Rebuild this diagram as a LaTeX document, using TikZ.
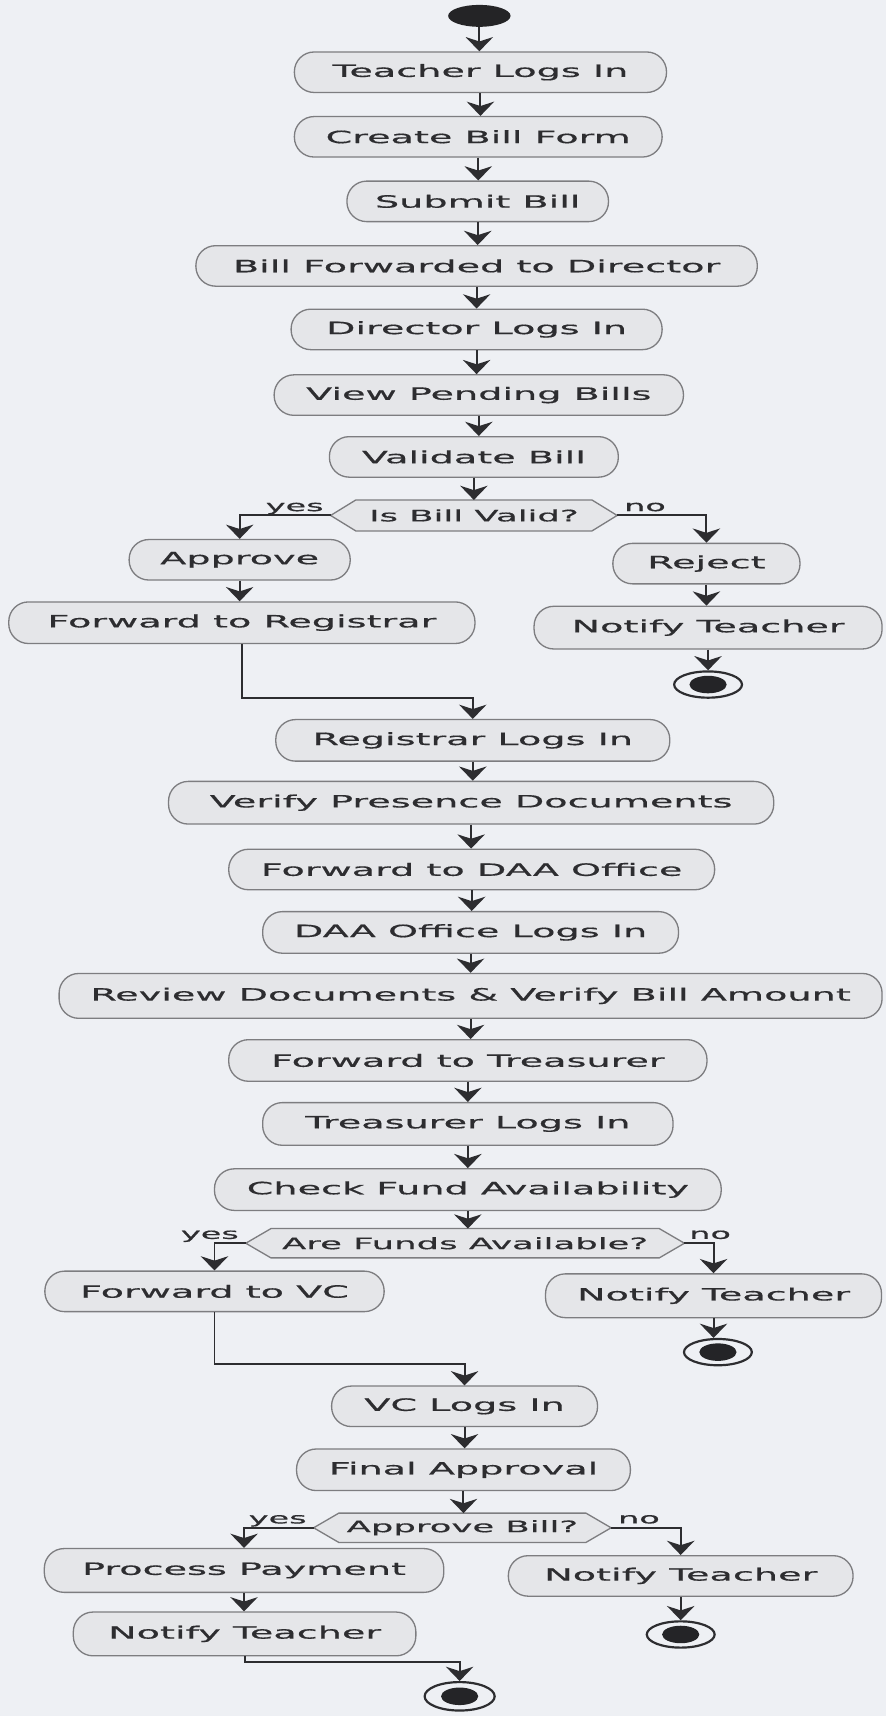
\documentclass[tikz,border=0pt]{standalone}
\usepackage{fontspec}
\setmainfont{DejaVu Sans}[FakeStretch=2.25,FakeBold=0.6]
\usetikzlibrary{arrows.meta,shapes.geometric}
\definecolor{bgc}{RGB}{238,240,244}
\definecolor{boxc}{RGB}{229,230,233}
\definecolor{edgec}{RGB}{125,125,128}
\definecolor{inkc}{RGB}{45,45,48}
\pgfdeclarelayer{back}
\pgfdeclarelayer{hexl}
\pgfsetlayers{back,hexl,main}
\tikzset{
 act/.style={draw=edgec, fill=boxc, rounded corners=9pt, line width=0.6pt, text=inkc,
   font=\fontsize{7.75pt}{9pt}\selectfont, inner sep=0pt, minimum height=18.5pt},
 bw/.style={minimum width=#1*0.5pt},
 bh/.style={minimum height=#1*0.5pt},
 dec/.style={text=inkc, font=\fontsize{7.2pt}{9pt}\selectfont, inner sep=0pt, minimum height=13.5pt},
 hexs/.style={draw=edgec, fill=boxc, line width=0.6pt},
 arr/.style={draw=inkc, line width=0.9pt, -{Stealth[length=6.5pt,width=12.5pt,inset=2pt]}},
 lbl/.style={text=inkc, font=\fontsize{6.8pt}{8pt}\selectfont, inner sep=0pt},
 endo/.style={ellipse, draw=inkc, line width=1pt, fill=bgc, inner sep=0pt, minimum width=31pt, minimum height=12pt},
 starts/.style={ellipse, fill=inkc!80!black, inner sep=0pt, minimum width=28.5pt, minimum height=10pt},
}
\newcommand{\hexof}[1]{%
 \begin{pgfonlayer}{hexl}
 \draw[hexs] (#1.west) -- ([xshift=11.5pt]#1.north west) -- ([xshift=-11.5pt]#1.north east)
   -- (#1.east) -- ([xshift=-11.5pt]#1.south east) -- ([xshift=11.5pt]#1.south west) -- cycle;
 \end{pgfonlayer}}
\newcommand{\finaldot}[1]{\fill[inkc!80!black] (#1.center) ellipse [x radius=8.5pt, y radius=4pt];}
\begin{document}
\begin{tikzpicture}[x=0.5pt,y=-0.5pt]
\begin{pgfonlayer}{back}
\fill[bgc] (0,0) rectangle (810,1568);
\end{pgfonlayer}
\useasboundingbox (0,0) rectangle (810,1568);

% nodes
\node[starts] (s0) at (438,14.5) {};
\node[act,bw=340] (t1) at (439,66) {Teacher Logs In};
\node[act,bw=336] (t2) at (437,125) {Create Bill Form};
\node[act,bw=239] (t3) at (436.5,184) {Submit Bill};
\node[act,bw=513] (t4) at (435.5,243) {Bill Forwarded to Director};
\node[act,bw=339] (t5) at (435.5,301) {Director Logs In};
\node[act,bw=374] (t6) at (437.5,361) {View Pending Bills};
\node[act,bw=264] (t7) at (433,417.5) {Validate Bill};
\node[dec,bw=261,bh=27.5] (d1) at (433,471) {Is Bill Valid?};
\hexof{d1}
\node[act,bw=202] (a1) at (219,511.5) {Approve};
\node[act,bw=171] (r1) at (645.5,515) {Reject};
\node[act,bw=426,bh=38] (fr) at (221,569) {Forward to Registrar};
\node[act,bw=318,bh=39] (n1) at (647,573.5) {Notify Teacher};
\node[endo] (e1) at (647,625.5) {};
\finaldot{e1}
\coordinate (m1) at (221,637.5);
\node[act,bw=360,bh=38] (t8) at (432,676.5) {Registrar Logs In};
\node[act,bw=553,bh=39] (t9) at (430.5,733.5) {Verify Presence Documents};
\node[act,bw=444] (t10) at (431,794.5) {Forward to DAA Office};
\node[act,bw=380,bh=38] (t11) at (430,852) {DAA Office Logs In};
\node[act,bw=752,bh=41] (t12) at (430,910) {Review Documents \& Verify Bill Amount};
\node[act,bw=437,bh=38] (t13) at (427.5,969) {Forward to Treasurer};
\node[act,bw=375,bh=39] (t14) at (427.5,1027) {Treasurer Logs In};
\node[act,bw=463,bh=38] (t15) at (427.5,1087) {Check Fund Availability};
\node[dec,bw=400,bh=26] (d2) at (425,1136) {Are Funds Available?};
\hexof{d2}
\node[act,bw=310] (fv) at (196,1180) {Forward to VC};
\node[act,bw=307,bh=40] (n2) at (652,1184) {Notify Teacher};
\node[endo] (e2) at (656,1235.5) {};
\finaldot{e2}
\coordinate (m2) at (196,1246.5);
\node[act,bw=243] (t16) at (424.5,1285) {VC Logs In};
\node[act,bw=305,bh=38] (t17) at (423.5,1343) {Final Approval};
\node[dec,bw=271,bh=26] (d3) at (422.5,1396) {Approve Bill?};
\hexof{d3}
\node[act,bw=365,bh=40] (pp) at (223,1435) {Process Payment};
\node[act,bw=315] (n3) at (622,1440) {Notify Teacher};
\node[act,bw=313,bh=40] (n4) at (223.5,1493) {Notify Teacher};
\node[endo] (e3) at (622,1493.5) {};
\finaldot{e3}
\coordinate (m3) at (223.5,1519);
\node[endo,minimum width=32pt,minimum height=13pt] (e4) at (420,1550) {};
\finaldot{e4}

% labels
\node[lbl,anchor=base east,xshift=-3pt,yshift=2pt] (y1) at (d1.west) {yes};
\node[lbl,anchor=base west,xshift=3pt,yshift=2pt] (o1) at (d1.east) {no};
\node[lbl,anchor=base east,xshift=-3pt,yshift=2pt] (y2) at (d2.west) {yes};
\node[lbl,anchor=base west,xshift=2pt,yshift=2pt] (o2) at (d2.east) {no};
\node[lbl,anchor=base east,xshift=-3pt,yshift=2pt] (y3) at (d3.west) {yes};
\node[lbl,anchor=base west,xshift=3pt,yshift=2pt] (o3) at (d3.east) {no};

% connectors
\draw[arr] (s0.south) -- (s0.south |- t1.north);
\draw[arr] (t1.south) -- (t1.south |- t2.north);
\draw[arr] (t2.south) -- (t2.south |- t3.north);
\draw[arr] (t3.south) -- (t3.south |- t4.north);
\draw[arr] (t4.south) -- (t4.south |- t5.north);
\draw[arr] (t5.south) -- (t5.south |- t6.north);
\draw[arr] (t6.south) -- (t6.south |- t7.north);
\draw[arr] (t7.south) -- (t7.south |- d1.north);
\draw[arr] (d1.west) -| (a1.north);
\draw[arr] (d1.east) -| (r1.north);
\draw[arr] (a1.south) -- (a1.south |- fr.north);
\draw[arr] (r1.south) -- (r1.south |- n1.north);
\draw[arr] (n1.south) -- (n1.south |- e1.north);
\draw[arr] (fr.south) -- (m1) -| (t8.north);
\draw[arr] (t8.south) -- (t8.south |- t9.north);
\draw[arr] (t9.south) -- (t9.south |- t10.north);
\draw[arr] (t10.south) -- (t10.south |- t11.north);
\draw[arr] (t11.south) -- (t11.south |- t12.north);
\draw[arr] (t12.south) -- (t12.south |- t13.north);
\draw[arr] (t13.south) -- (t13.south |- t14.north);
\draw[arr] (t14.south) -- (t14.south |- t15.north);
\draw[arr] (t15.south) -- (t15.south |- d2.north);
\draw[arr] (d2.west) -| (fv.north);
\draw[arr] (d2.east) -| (n2.north);
\draw[arr] (n2.south) -- (n2.south |- e2.north);
\draw[arr] (fv.south) -- (m2) -| (t16.north);
\draw[arr] (t16.south) -- (t16.south |- t17.north);
\draw[arr] (t17.south) -- (t17.south |- d3.north);
\draw[arr] (d3.west) -| (pp.north);
\draw[arr] (d3.east) -| (n3.north);
\draw[arr] (pp.south) -- (pp.south |- n4.north);
\draw[arr] (n3.south) -- (n3.south |- e3.north);
\draw[arr] (n4.south) -- (m3) -| (e4.north);
\end{tikzpicture}
\end{document}
